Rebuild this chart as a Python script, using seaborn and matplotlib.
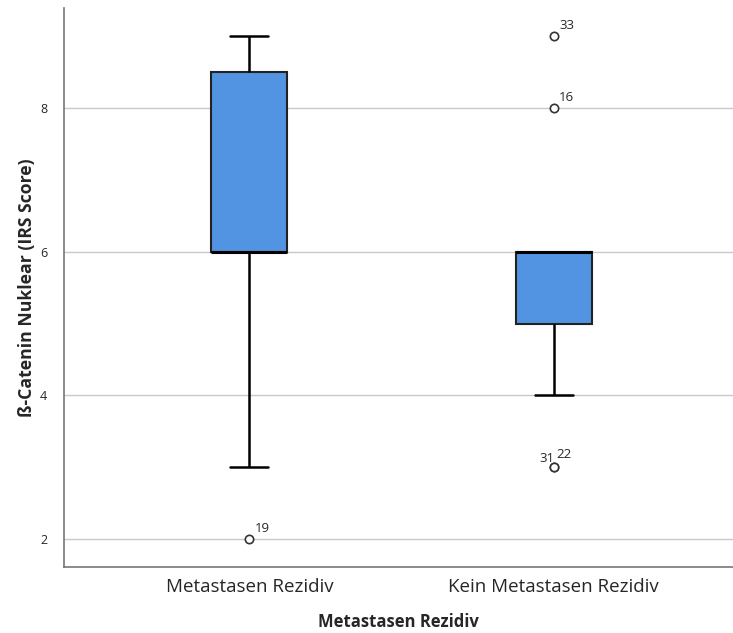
import pandas as pd
import seaborn as sns
import matplotlib.pyplot as plt

groups = ["Metastasen Rezidiv", "Kein Metastasen Rezidiv"]
# raw IRS scores per group (chosen so the box stats match the figure)
scores_rezidiv = [2, 3, 6, 6, 6, 6, 6, 8, 9, 9, 9]
scores_kein = [3, 3, 4, 5, 5, 5, 6, 6, 6, 6, 6, 6, 6, 8, 9]
# outlier case labels: (group, value, label)
outlier_labels = [(0, 2, "19"), (1, 9, "33"), (1, 8, "16"), (1, 3, "31"), (1, 3, "22")]

df = pd.DataFrame({
    "group": [groups[0]] * len(scores_rezidiv) + [groups[1]] * len(scores_kein),
    "score": scores_rezidiv + scores_kein,
})

sns.set_style("white")
plt.rcParams["font.family"] = ["Open Sans", "DejaVu Sans"]

fig = plt.figure(figsize=(7.33, 6.33), dpi=100)
ax = fig.add_axes([0.087, 0.104, 0.913, 0.883])

ax.yaxis.grid(True, color="#c8c8c8", linewidth=1)
ax.set_axisbelow(True)

sns.boxplot(data=df, x="group", y="score", order=groups, ax=ax,
            color="#5294e2", saturation=1, width=0.25, whis=1.5,
            linecolor="#222222", linewidth=1.5,
            flierprops=dict(marker="o", markerfacecolor="white",
                            markeredgecolor="#333333", markersize=6, markeredgewidth=1.2),
            medianprops=dict(color="black", linewidth=2.2),
            whiskerprops=dict(color="black", linewidth=1.8),
            capprops=dict(color="black", linewidth=1.8))

for g, v, lab in outlier_labels:
    if lab == "31":
        ax.annotate(lab, (g, v), xytext=(-10, 4), textcoords="offset points", fontsize=9.5)
    elif lab == "22":
        ax.annotate(lab, (g, v), xytext=(2, 7), textcoords="offset points", fontsize=9.5)
    else:
        ax.annotate(lab, (g, v), xytext=(4, 5), textcoords="offset points", fontsize=9.5)

ax.set_xlim(-0.61, 1.59)
ax.set_ylim(1.61, 9.39)
ax.set_yticks([2, 4, 6, 8])
ax.tick_params(axis="both", length=0)
ax.tick_params(axis="x", labelsize=13.5, pad=8)
ax.tick_params(axis="y", labelsize=9, pad=12)
ax.set_xlabel("Metastasen Rezidiv", fontsize=12, fontweight="bold", labelpad=12)
ax.set_ylabel("ß-Catenin Nuklear (IRS Score)", fontsize=12.7, fontweight="bold", labelpad=3)

for s in ["top", "right"]:
    ax.spines[s].set_visible(False)
for s in ["left", "bottom"]:
    ax.spines[s].set_color("#777777")
    ax.spines[s].set_linewidth(1.2)

plt.savefig("out.png", dpi=100)
